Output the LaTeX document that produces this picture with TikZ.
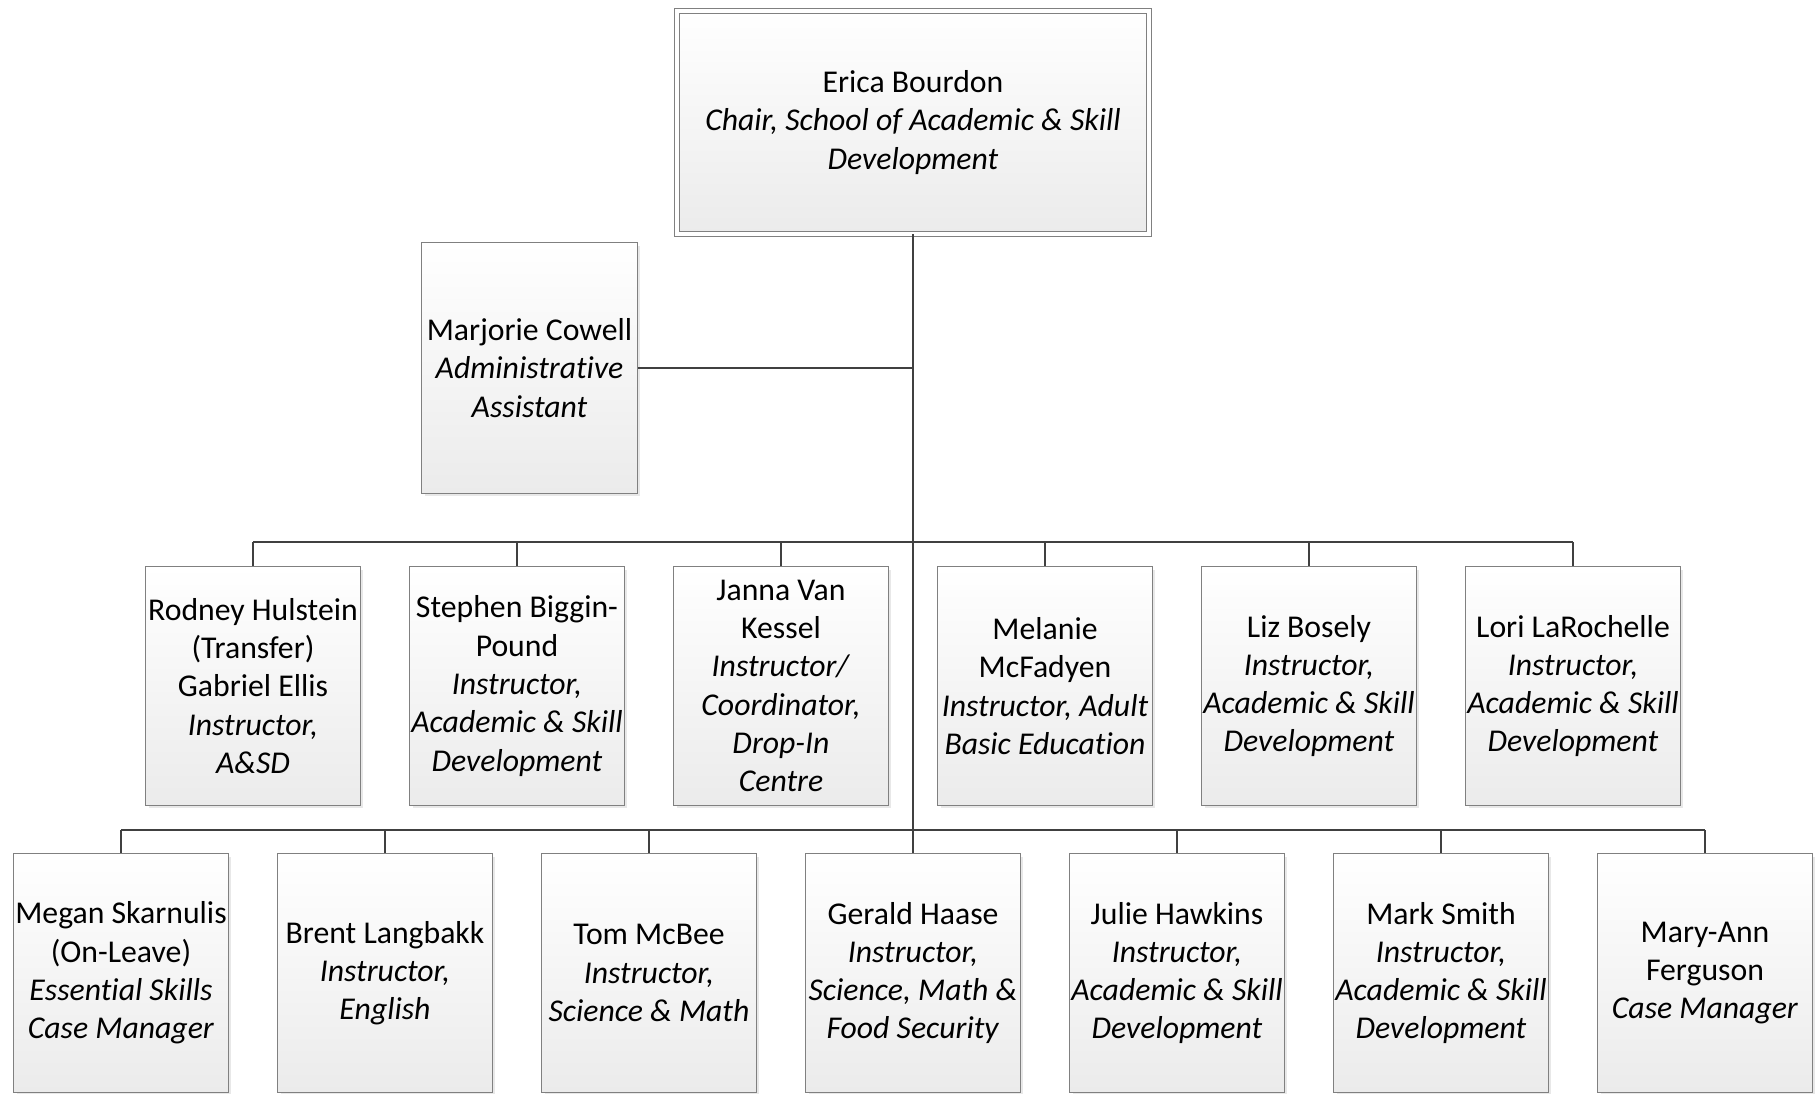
\documentclass[tikz,border=0pt]{standalone}
\usepackage{fontspec}
\setmainfont[Ligatures=NoCommon]{Carlito}
\usetikzlibrary{shadows}
\definecolor{boxline}{HTML}{808080}
\definecolor{boxbottom}{HTML}{EBEBEB}
\definecolor{linkline}{HTML}{404040}
\tikzset{
  staff/.style={draw=boxline, line width=0.9pt, top color=white, bottom color=boxbottom,
    drop shadow={shadow xshift=2.2pt, shadow yshift=-2.2pt, fill=black!18},
    minimum width=161.1pt, minimum height=179.1pt, inner sep=0pt, align=center,
    font=\fontsize{23.8}{28.7}\selectfont},
  chairbox/.style={staff, line width=0.75pt, double=white, double distance=3pt,
    minimum width=354.7pt, minimum height=167.2pt},
  link/.style={draw=linkline, line width=1.1pt},
}

\begin{document}
\begin{tikzpicture}[x=0.75pt,y=-0.75pt]
  \clip (0,0) rectangle (1820,1093);
  \node[chairbox] (chair) at (913,122.5) {Erica Bourdon\\\textit{Chair, School of Academic \& Skill}\\\textit{Development}};
  \node[staff, minimum width=161.9pt, minimum height=188.1pt] (asst) at (529.5,368) {Marjorie Cowell\\\textit{Administrative}\\\textit{Assistant}};
  % first row
  \node[staff] (r1) at (253,686) {Rodney Hulstein\\(Transfer)\\Gabriel Ellis\\\textit{Instructor,}\\\textit{A\&SD}};
  \node[staff] (r2) at (517,686) {Stephen Biggin-\\Pound\\\textit{Instructor,}\\\textit{Academic \& Skill}\\\textit{Development}};
  \node[staff] (r3) at (781,686) {Janna Van\\Kessel\\\textit{Instructor/}\\\textit{Coordinator,}\\\textit{Drop-In}\\\textit{Centre}};
  \node[staff] (r4) at (1045,686) {Melanie\\McFadyen\\\textit{Instructor, Adult}\\\textit{Basic Education}};
  \node[staff] (r5) at (1309,686) {Liz Bosely\\\textit{Instructor,}\\\textit{Academic \& Skill}\\\textit{Development}};
  \node[staff] (r6) at (1573,686) {Lori LaRochelle\\\textit{Instructor,}\\\textit{Academic \& Skill}\\\textit{Development}};
  % second row
  \node[staff] (s1) at (121,973) {Megan Skarnulis\\(On-Leave)\\\textit{Essential Skills}\\\textit{Case Manager}};
  \node[staff] (s2) at (385,973) {Brent Langbakk\\\textit{Instructor,}\\\textit{English}};
  \node[staff] (s3) at (649,973) {Tom McBee\\\textit{Instructor,}\\\textit{Science \& Math}};
  \node[staff] (s4) at (913,973) {Gerald Haase\\\textit{Instructor,}\\\textit{Science, Math \&}\\\textit{Food Security}};
  \node[staff] (s5) at (1177,973) {Julie Hawkins\\\textit{Instructor,}\\\textit{Academic \& Skill}\\\textit{Development}};
  \node[staff] (s6) at (1441,973) {Mark Smith\\\textit{Instructor,}\\\textit{Academic \& Skill}\\\textit{Development}};
  \node[staff] (s7) at (1705,973) {Mary-Ann\\Ferguson\\\textit{Case Manager}};

  \coordinate (busA) at (913,542);
  \coordinate (busB) at (913,830);
  \draw[link, line width=1.3pt] (chair.south) -- (s4.north);
  \draw[link, line width=1.9pt] (chair.south |- asst.east) -- (s4.north);
  \draw[link] (asst.east) -- (chair.south |- asst.east);
  \draw[link] (busA -| r1.north) -- (busA -| r6.north);
  \draw[link] (busB -| s1.north) -- (busB -| s7.north);
  \foreach \n in {r1,r2,r3,r4,r5,r6}
    \draw[link] (busA -| \n.north) -- (\n.north);
  \foreach \n in {s1,s2,s3,s5,s6,s7}
    \draw[link] (busB -| \n.north) -- (\n.north);
\end{tikzpicture}
\end{document}
